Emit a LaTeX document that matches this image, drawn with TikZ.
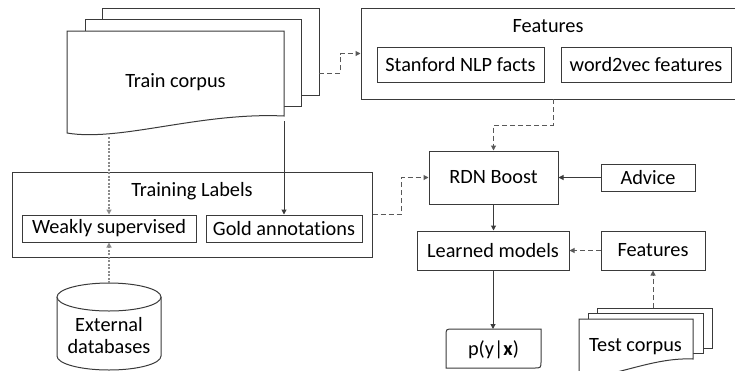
\documentclass[tikz,border=0pt]{standalone}
\usepackage{fontspec}
\setmainfont{Carlito}[Ligatures=NoCommon]
\usetikzlibrary{arrows.meta}
\definecolor{edge}{HTML}{3A3A3A}
\definecolor{dash}{HTML}{595959}
\definecolor{dotc}{HTML}{8A8A8A}
\begin{document}
\begin{tikzpicture}[x=1pt,y=-1pt,
  every node/.style={font=\fontsize{20.3}{22}\selectfont, text=black},
  box/.style={draw=edge, line width=1pt, fill=white, inner sep=0pt},
  doc/.style={draw=edge, line width=1pt, fill=white},
  lbl/.style={inner sep=0pt},
  tip/.style={-{Triangle[length=5pt,width=5pt]}},
  solidarrow/.style={tip, draw=edge, line width=1pt},
  dasharrow/.style={tip, draw=dash, line width=1pt, dash pattern=on 5pt off 3pt},
  dotarrow/.style={tip, draw=dotc, line width=1.2pt, dash pattern=on 2pt off 1.5pt}]
\useasboundingbox (0,0) rectangle (735,370);
\clip (0,0) rectangle (735,370);

% Train corpus (multi-document)
\draw[doc] (102,8) rectangle (319,95);
\draw[doc] (85,19) rectangle (301,106);
\draw[doc] (67,31) -- (284,31) -- (284,116) .. controls (200,112) and (120,142) .. (67,133) -- cycle;
\node[lbl] (train) at (175.5,82) {Train corpus};
\coordinate (tcR) at (319,73);
\coordinate (tcB) at (109,137);
\coordinate (tcC) at (284,121);

% Features (top)
\node[box, minimum width=379pt, minimum height=91pt] (featbig) at (550.5,53.5) {};
\node[lbl] (featlbl) at (548,26) {Features};
\node[box, minimum width=167pt, minimum height=35pt] (stanford) at (460.5,64.5) {Stanford NLP facts};
\node[box, minimum width=170pt, minimum height=35pt] (w2v) at (646,64.5) {word2vec features};
\coordinate (fb) at (553,99);

% Training labels
\node[box, minimum width=360pt, minimum height=85pt] (tl) at (192,214.5) {};
\node[lbl] (tllbl) at (192,191) {Training Labels};
\node[box, minimum width=174pt, minimum height=27pt] (weak) at (109,228.5) {Weakly supervised};
\node[box, minimum width=156pt, minimum height=27pt] (gold) at (284,228.5) {Gold annotations};

% External databases cylinder
\draw[doc] (57,297) -- (57,356) arc[start angle=180, end angle=0, x radius=52, y radius=14] -- (161,297);
\draw[doc] (109,297) ellipse [x radius=52, y radius=14];
\node[lbl, align=center] (ext) at (109,336) {External\\databases};
\coordinate (db) at (109,283);

% Right part
\node[box, minimum width=129pt, minimum height=53pt] (rdn) at (493.5,177.5) {RDN Boost};
\node[box, minimum width=94pt, minimum height=27pt] (advice) at (648,177.5) {Advice};
\node[box, minimum width=152pt, minimum height=39pt] (lm) at (493,250.5) {Learned models};
\node[box, minimum width=104pt, minimum height=39pt] (featsm) at (653,250.5) {Features};

% p(y|x)
\draw[doc] (446,368) -- (446,336) .. controls (446,329) .. (453,329) -- (541,329) -- (541,361) .. controls (541,368) .. (534,368) -- cycle;
\node[lbl] (p) at (493.5,350) {p(y|\textbf{x})};

% Test corpus
\draw[doc] (597,308) rectangle (712,348);
\draw[doc] (588,313) rectangle (703,353);
\draw[doc] (579,319) -- (693,319) -- (693,359) .. controls (650,357) and (610,380) .. (579,376) -- cycle;
\node[lbl] (test) at (635.5,347) {Test corpus};
\coordinate (tstT) at (653,308);

% Connectors
\draw[dasharrow] (tcR) -- (340,73) |- (featbig.west);
\draw[dasharrow] (fb) -- (553,125) -| (rdn.north);
\draw[dasharrow] (tl.east) -- (401,214.5) |- (rdn.west);
\draw[solidarrow] (advice.west) -- (rdn.east);
\draw[solidarrow] (rdn.south) -- (lm.north -| rdn.south);
\draw[dasharrow] (featsm.west) -- (lm.east);
\draw[solidarrow] (lm.south) -- (493,329);
\draw[dasharrow] (tstT) -- (featsm.south);
\draw[dotarrow] (tcB) -- (tcB |- weak.north);
\draw[dotarrow] (db) -- (db |- weak.south);
\draw[solidarrow] (tcC) -- (gold.north);
\end{tikzpicture}
\end{document}
